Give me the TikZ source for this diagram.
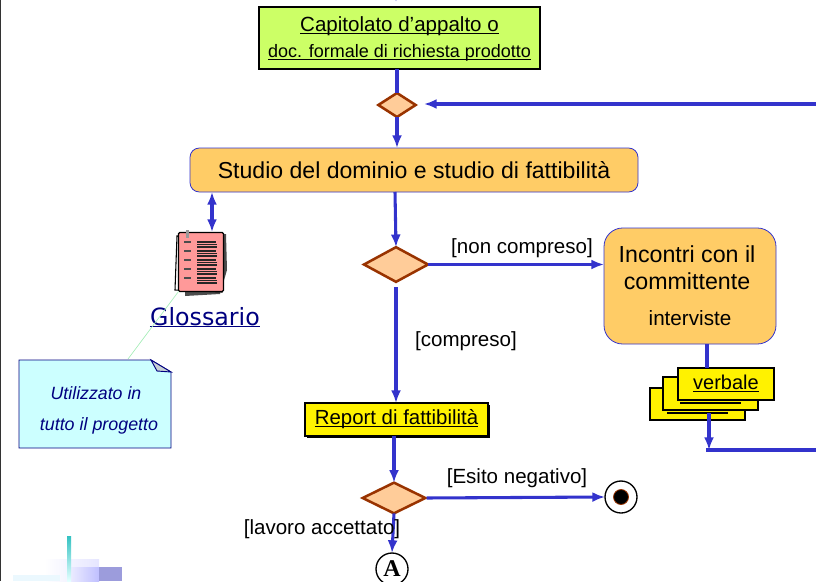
\documentclass[tikz,border=0pt]{standalone}
\usepackage{fontspec}
\setmainfont{Liberation Sans}
\newfontfamily\glossfont{DejaVu Sans}
\newfontfamily\connfont{Liberation Serif}
\usetikzlibrary{shapes.geometric,arrows.meta}
\definecolor{flowblue}{HTML}{3333CC}
\definecolor{decfill}{HTML}{FFCC99}
\definecolor{decline}{HTML}{993300}
\definecolor{actfill}{HTML}{FFCC66}
\definecolor{docgreen}{HTML}{CCFF66}
\definecolor{notefill}{HTML}{CCFFFF}
\definecolor{notetext}{HTML}{000080}
\definecolor{pagefill}{HTML}{FF9999}
\definecolor{cornerblue}{HTML}{9C9CDC}
\tikzstyle{decision}=[diamond, draw=decline, fill=decfill, line width=1.9pt, inner sep=0pt, outer sep=0pt]
\tikzstyle{activity}=[rectangle, rounded corners=7pt, draw=flowblue, fill=actfill, line width=0.6pt, inner sep=0pt, outer sep=0pt, align=center]
\tikzstyle{artifact}=[rectangle, draw=black, fill=yellow, line width=1.5pt, inner sep=0pt, outer sep=0pt]
\tikzstyle{flow}=[draw=flowblue, line width=2.3pt, -{Latex[length=9.5pt,width=7.5pt]}]
\tikzstyle{guard}=[inner sep=0pt, font=\fontsize{15.4}{18}\selectfont]
\tikzstyle{underlined}=[text height=9pt, text depth=1pt]
\newcommand{\decision}{\node[decision]}
\newcommand{\artifact}{\node[artifact]}
\newcommand{\sottolinea}[1]{\underline{\smash{#1}}}
\begin{document}
\begin{tikzpicture}[x=0.75pt,y=-0.75pt]
	\useasboundingbox (0,0) rectangle (816,581);
	%% the slide edge and the corner decoration
	\fill[black!80] (0,0) rectangle (1,581);
	\shade[left color=white, right color=blue!10] (44,559) rectangle (99,581);
	\fill[cyan!8] (13,575) rectangle (60,581);
	\shade[left color=blue!8, right color=blue!25] (71,567) rectangle (99,581);
	\fill[cornerblue] (99,567) rectangle (122,581);
	\shade[top color=teal!60!cyan!80, bottom color=cyan!10] (67,536) rectangle (71,581);
	%% the nodes of the flow
	\node[rectangle, draw=black, fill=docgreen, line width=1.5pt, minimum width=281*0.75pt, minimum height=62*0.75pt, inner sep=0pt, outer sep=0pt] (capitolato) at (399.5,38) {};
	\node[underlined, font=\fontsize{15.4}{18}\selectfont] (capitolatotext) at (399.5,26) {\sottolinea{Capitolato d’appalto o}};
	\node[underlined, font=\fontsize{13.5}{16}\selectfont] (capitolatodoc) at (399.5,52.5) {\sottolinea{doc. formale di richiesta prodotto}};
	\decision (dec1) at (397,105) [minimum width=28pt, minimum height=18pt] {};
	\node[activity, minimum width=448*0.75pt, minimum height=44*0.75pt, font=\fontsize{17.3}{20}\selectfont] (studio) at (414,170) {Studio del dominio e studio di fattibilità};
	\decision (dec2) at (396,264.5) [minimum width=48pt, minimum height=26pt] {};
	\node[activity, rounded corners=14pt, minimum width=172*0.75pt, minimum height=116*0.75pt] (incontri) at (690,286) {};
	\node[font=\fontsize{17.4}{20}\selectfont, align=center] (incontritext) at (687,268) {Incontri con il\\committente};
	\node[font=\fontsize{15.5}{18}\selectfont] (interviste) at (690,318) {interviste};
	\artifact (verbale1) at (697.5,404) [minimum width=95*0.75pt, minimum height=32*0.75pt] {};
	\draw[black, line width=1.5pt] (667,412.5) -- (728,412.5);
	\artifact (verbale2) at (710.5,393.5) [minimum width=95*0.75pt, minimum height=33*0.75pt] {};
	\draw[black, line width=1.5pt] (680,402.5) -- (741,402.5);
	\artifact (verbale) at (726,384) [underlined, minimum width=96*0.75pt, minimum height=32*0.75pt, font=\fontsize{15}{18}\selectfont] {\sottolinea{verbale}};
	\fill[black] (307,405) rectangle (490,438);
	\artifact (report) at (396.5,419.5) [underlined, minimum width=183*0.75pt, minimum height=33*0.75pt, font=\fontsize{15.3}{18}\selectfont] {\sottolinea{Report di fattibilità}};
	\decision (dec3) at (394,498) [minimum width=47pt, minimum height=23pt] {};
	\node[circle, draw=black, fill=white, line width=1pt, minimum size=32*0.75pt, inner sep=0pt, outer sep=0pt] (fine) at (621,497) {};
	\node[circle, draw=decline, fill=black, line width=0.6pt, minimum size=15*0.75pt, inner sep=0pt] (fineint) at (621,497) {};
	\node[circle, draw=black, fill=white, line width=1pt, minimum size=32*0.75pt, inner sep=0pt, outer sep=0pt, font=\fontsize{18}{20}\connfont\bfseries] (conn) at (392,569) {A};
	%% the glossary sheets
	\fill[black!70] (185,236) -- (226,234) -- (227,270) -- (220,294) -- (185,296) -- cycle;
	\draw[black, fill=white, line width=0.8pt] (177,236) -- (222,234) -- (222,292) -- (175,290) -- cycle;
	\node[rectangle, draw=black, fill=pagefill, rounded corners=1pt, line width=0.9pt, minimum width=45*0.75pt, minimum height=59*0.75pt, inner sep=0pt, outer sep=0pt] (foglio) at (201,262) {};
	\foreach \y in {242,251,260,269,278} {
		\draw[black!70, line width=0.9pt] (184,\y) -- (191,\y);
		\draw[black!85, line width=0.8pt] (197,\y) -- (216,\y);
		\draw[black!85, line width=0.8pt] (197,\y+2.5) -- (217,\y+2.5);
		\draw[black!85, line width=0.8pt] (197,\y+5) -- (217,\y+5);
	}
	\fill[black!40] (186,230) rectangle (189,238);
	\node[font=\fontsize{17.8}{20}\glossfont\selectfont, text=notetext, inner sep=0pt] (glossario) at (205,317) {Glossario};
	\draw[notetext, line width=1.1pt] (glossario.south west) -- (glossario.south east);
	%% the note
	\node[minimum width=152*0.75pt, minimum height=88*0.75pt, inner sep=0pt, outer sep=0pt] (nota) at (95,404) {};
	\draw[notetext, fill=notefill, line width=0.7pt] (nota.north west) -- (151,360) -- (171,372) -- (nota.south east) -- (nota.south west) -- cycle;
	\draw[notetext, fill=cyan!25!black!25, line width=0.7pt] (151,360) -- (171,372) -- (157,371) -- cycle;
	\node[font=\fontsize{13.3}{16}\itshape\selectfont, text=notetext] (notatesto1) at (96,393) {Utilizzato in};
	\node[font=\fontsize{13.4}{16}\itshape\selectfont, text=notetext] (notatesto2) at (99,426) {tutto il progetto};
	\coordinate (notaattacco) at (128,359);
	\draw[teal!40!green!35, line width=0.5pt] (notaattacco) -- (foglio.south west);
	%% the free ends
	\coordinate (ritorno) at (816,104);
	\coordinate (ritornofine) at (424,104);
	\coordinate (uscita) at (816,450);
	\coordinate (uscitafine) at (706,450);
	\coordinate (verbaleout) at (709,413);
	\coordinate (verbalefine) at (709,450);
	\coordinate (entrata) at (396,-8);
	\coordinate (entratafine) at (396,2);
	\coordinate (studiogloss) at (212,192);
	\coordinate (glossstudio) at (212,232);
	%% for the edges
	\draw[flow] (entrata) -- (entratafine);
	\draw[flow, -] (capitolato.south -| dec1) -- (dec1.north);
	\draw[flow] (ritorno) -- (ritornofine);
	\draw[flow] (dec1.south) -- (dec1.south |- studio.north);
	\draw[flow, {Latex[length=9.5pt,width=7.5pt]}-{Latex[length=9.5pt,width=7.5pt]}] (studiogloss) -- (glossstudio);
	\draw[flow] (395,192) -- (dec2.north);
	\draw[flow] (dec2.east) -- (incontri.west |- dec2.east);
	\draw[flow, shorten <=4pt] (dec2.south) -- (dec2.south |- report.north);
	\draw[flow, -] (707,344) -- (707,368);
	\draw[flow] (verbaleout) -- (verbalefine);
	\draw[flow, -] (uscitafine) -- (uscita);
	\draw[flow] (report.south -| dec3) -- (dec3.north);
	\draw[flow, shorten <=1pt] (dec3.east) -- (fine.west);
	\draw[flow] (dec3.south) -- (conn.north);
	%% the labels on the edges
	\node[guard] (noncompreso) at (522,248) {[non compreso]};
	\node[guard] (compreso) at (466,341) {[compreso]};
	\node[guard] (esito) at (517,478) {[Esito negativo]};
	\node[guard] (accettato) at (322,529) {[lavoro accettato]};
\end{tikzpicture}
\end{document}
